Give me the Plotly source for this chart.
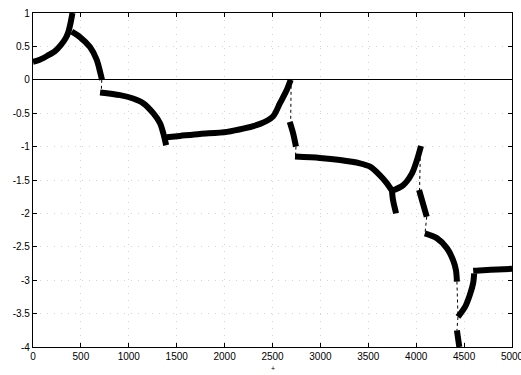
import plotly.graph_objects as go

# ---- data ----
seg1_x = [0, 70, 150, 230, 290, 340, 370, 392, 412]
seg1_y = [0.27, 0.30, 0.36, 0.43, 0.52, 0.62, 0.72, 0.85, 1.0]

seg2_x = [404, 490, 595, 665, 700, 720]
seg2_y = [0.72, 0.64, 0.49, 0.30, 0.12, 0.0]

seg3_x = [700, 908, 1045, 1150, 1255, 1326, 1360, 1390]
seg3_y = [-0.19, -0.23, -0.28, -0.35, -0.50, -0.65, -0.80, -0.98]

seg4_x = [1395, 1535, 1743, 2025, 2370, 2505, 2578, 2650, 2690]
seg4_y = [-0.86, -0.84, -0.81, -0.78, -0.66, -0.55, -0.35, -0.15, 0.0]

seg5_x = [2680, 2715, 2745]
seg5_y = [-0.63, -0.80, -1.0]

seg6_x = [2735, 2995, 3205, 3413, 3518, 3622, 3695, 3747]
seg6_y = [-1.15, -1.17, -1.20, -1.25, -1.30, -1.43, -1.55, -1.66]

seg7_x = [3747, 3758, 3790]
seg7_y = [-1.66, -1.80, -2.0]

seg8_x = [3747, 3862, 3956, 4008, 4050]
seg8_y = [-1.66, -1.58, -1.40, -1.20, -0.99]

seg9_x = [4030, 4070, 4110]
seg9_y = [-1.65, -1.85, -2.05]

seg10_x = [4090, 4215, 4320, 4385, 4415, 4425]
seg10_y = [-2.30, -2.37, -2.52, -2.70, -2.85, -3.02]

seg11_x = [4436, 4510, 4560, 4595, 4605]
seg11_y = [-3.55, -3.40, -3.22, -3.04, -2.90]

seg12_x = [4595, 4700, 4850, 5000]
seg12_y = [-2.86, -2.85, -2.84, -2.83]

seg13_x = [4425, 4440, 4450]
seg13_y = [-3.75, -3.90, -4.0]

# dotted connectors (vertical jumps)
conn_x = [[718, 712], [2695, 2690], [2745, 2740], [4045, 4035], [4110, 4092], [4425, 4436], [4436, 4425]]
conn_y = [[0.0, -0.19], [0.0, -0.60], [-1.0, -1.15], [-0.99, -1.65], [-2.05, -2.30], [-3.02, -3.55], [-3.55, -3.75]]

x_ticks = [0, 500, 1000, 1500, 2000, 2500, 3000, 3500, 4000, 4500, 5000]
y_ticks = [1, 0.5, 0, -0.5, -1, -1.5, -2, -2.5, -3, -3.5, -4]
y_tick_text = ["1", "0.5", "0", "-0.5", "-1", "-1.5", "-2", "-2.5", "-3", "-3.5", "-4"]

fig = go.Figure()

for cx, cy in zip(conn_x, conn_y):
    fig.add_trace(go.Scatter(x=cx, y=cy, mode="lines",
                             line=dict(color="black", width=1, dash="dot"),
                             showlegend=False, hoverinfo="skip"))

segments = [(seg1_x, seg1_y), (seg2_x, seg2_y), (seg3_x, seg3_y), (seg4_x, seg4_y),
            (seg5_x, seg5_y), (seg6_x, seg6_y), (seg7_x, seg7_y), (seg8_x, seg8_y),
            (seg9_x, seg9_y), (seg10_x, seg10_y), (seg11_x, seg11_y), (seg12_x, seg12_y),
            (seg13_x, seg13_y)]
for sx, sy in segments:
    fig.add_trace(go.Scatter(x=sx, y=sy, mode="lines",
                             line=dict(color="black", width=6, shape="spline", smoothing=0.8),
                             showlegend=False))

font = dict(family="Liberation Sans, Arial, sans-serif", size=10, color="black")
grid = dict(showgrid=True, gridcolor="#d4d4d4", griddash="1px,6px", gridwidth=1)

fig.update_layout(
    width=521, height=375,
    margin=dict(l=33, r=9, t=13, b=28, autoexpand=False),
    paper_bgcolor="white", plot_bgcolor="white",
    font=font,
    xaxis=dict(range=[0, 5000], tickvals=x_ticks, ticks="inside", ticklen=4,
               tickcolor="black", showline=True, linecolor="black", linewidth=1.2,
               mirror="ticks", zeroline=False, tickfont=font, automargin=False,
               ticklabeloverflow="allow", **grid),
    yaxis=dict(range=[-4, 1], tickvals=y_ticks, ticktext=y_tick_text, ticks="inside",
               ticklen=4, tickcolor="black", showline=True, linecolor="black",
               linewidth=1.2, mirror="ticks", zeroline=True, zerolinecolor="black",
               zerolinewidth=1, tickfont=font, automargin=False,
               ticklabeloverflow="allow", **grid),
    annotations=[dict(x=2500, y=-0.08, xref="x", yref="paper", text="+",
                      showarrow=False, font=dict(size=7, color="black"))],
)

fig.write_html("out.html", config={"displayModeBar": False},
               post_script="document.body.style.margin='0';document.body.style.overflow='hidden';")
